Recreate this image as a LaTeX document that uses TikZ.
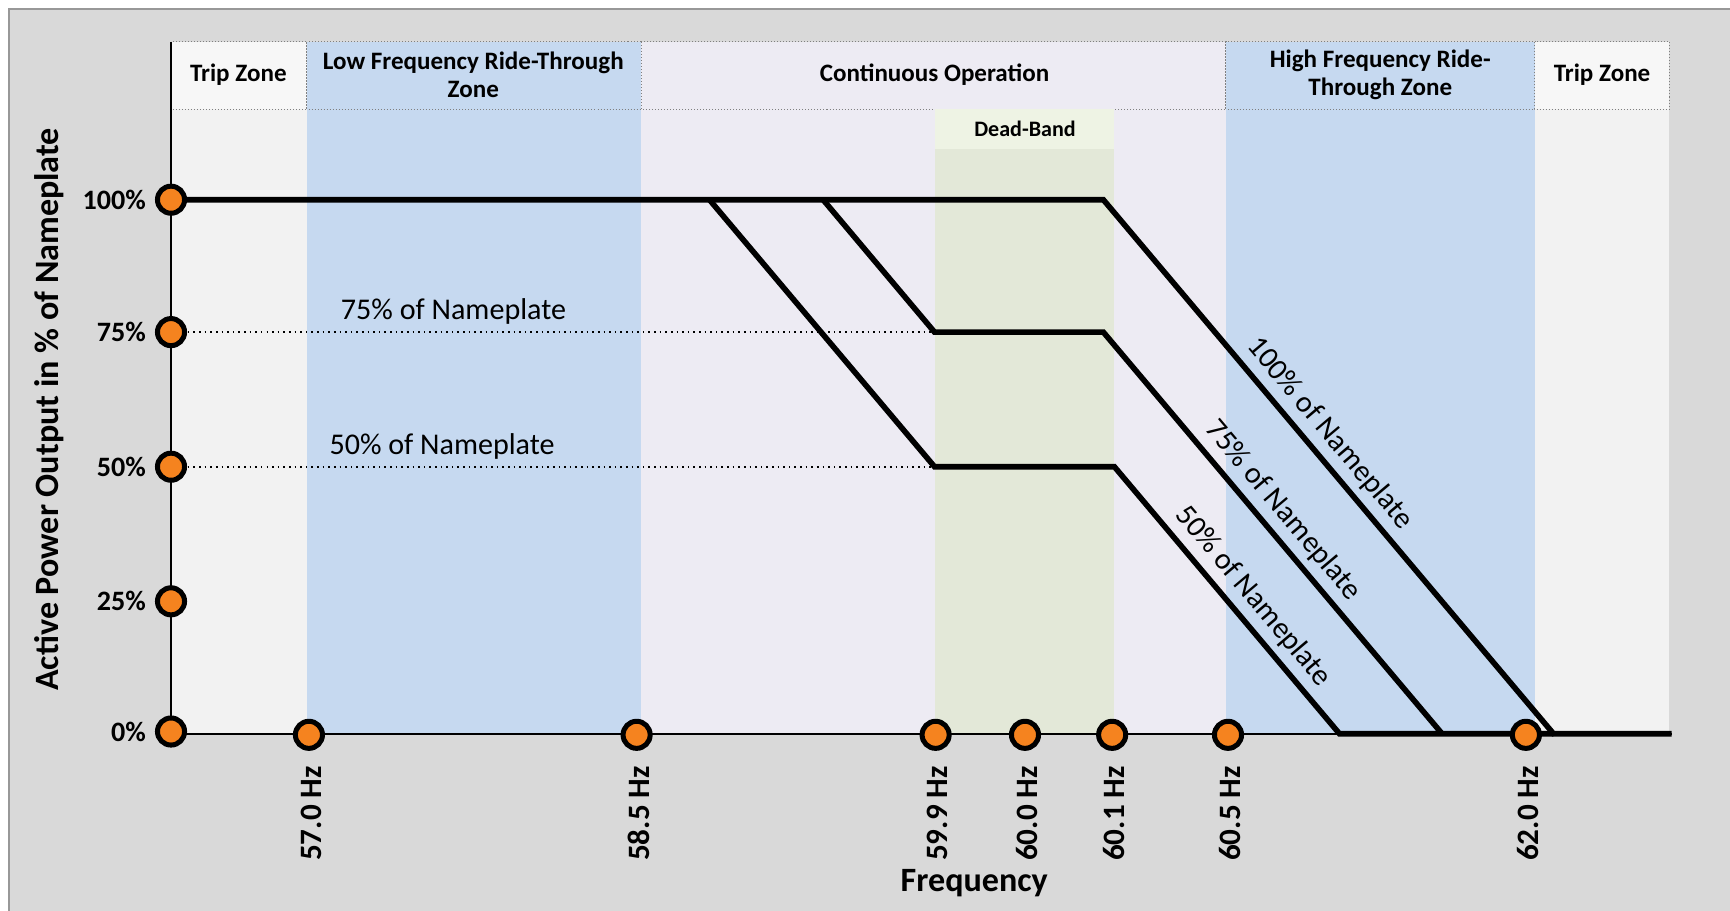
\documentclass[tikz,border=0pt]{standalone}
\usepackage{fontspec}
\setmainfont{Carlito}
\usetikzlibrary{positioning}
\pgfdeclarelayer{zones}
\pgfdeclarelayer{lines}
\pgfsetlayers{zones,lines,main}

\definecolor{framegray}{RGB}{217,217,217}
\definecolor{tripgray}{RGB}{242,242,242}
\definecolor{triphead}{RGB}{247,247,247}
\definecolor{rideblue}{RGB}{198,217,240}
\definecolor{contlav}{RGB}{237,235,243}
\definecolor{deadgreen}{RGB}{227,232,216}
\definecolor{deadlight}{RGB}{238,243,228}
\definecolor{dotorange}{RGB}{245,131,31}

\tikzset{% styles for the ride-through chart
   dotmark/.style={circle, draw=black, line width=2.5pt, fill=dotorange,
                   minimum size=13.5pt, inner sep=0pt},
   curve/.style={line width=2.8pt, line join=miter},
   axisline/.style={line width=0.9pt},
   guide/.style={dotted, line width=0.8pt},
   zonehead/.style={draw=gray, densely dotted, line width=0.5pt},
   headtext/.style={font=\bfseries\fontsize{12.5}{13.8}\selectfont, align=center},
   ticklabel/.style={font=\bfseries\fontsize{14}{16}\selectfont},
   xticklabel/.style={font=\bfseries\fontsize{15.5}{17}\selectfont},
   curvelabel/.style={font=\fontsize{15}{17}\selectfont},
   axistitle/.style={font=\bfseries\fontsize{17}{19}\selectfont}
}

\begin{document}
\begin{tikzpicture}[x=0.55pt, y=-0.55pt]
   \useasboundingbox (0,0) rectangle (1568,825);
   % frame and zone bands
   \begin{pgfonlayer}{zones}
     \fill[white] (0,0) rectangle (1568,825);
     \filldraw[fill=framegray, draw=framegray!70!black, line width=0.8pt]
          (8,8) rectangle (1600,860);
     \foreach \xa/\xb/\col/\hcol in {155/278/tripgray/triphead, 278/581/rideblue/rideblue,
                                     581/1111/contlav/contlav, 1111/1391/rideblue/rideblue,
                                     1391/1513/tripgray/triphead} {
        \fill[\col] (\xa,99) rectangle (\xb,665);
        \filldraw[zonehead, fill=\hcol] (\xa,38) rectangle (\xb,99);
     }
     \fill[deadlight] (847,99) rectangle (1010,135);
     \fill[deadgreen] (847,135) rectangle (1010,665);
   \end{pgfonlayer}

   % zone titles
   \node[headtext] (tripL) at (216,68) {Trip Zone};
   \node[headtext] (lfrt) at (429,68) {Low Frequency Ride-Through\\Zone};
   \node[headtext] (cont) at (847,68) {Continuous Operation};
   \node[headtext] (hfrt) at (1251,68) {High Frequency Ride-\\Through Zone};
   \node[headtext] (tripR) at (1452,68) {Trip Zone};
   \node[font=\bfseries\fontsize{11}{13}\selectfont] (dband) at (929,117) {Dead-Band};

   % markers on the power axis
   \foreach \p/\y in {100/181, 75/301, 50/423, 25/545, 0/663} {
      \node[dotmark] (y\p) at (155,\y) {};
      \node[ticklabel, left=1pt of y\p] (l\p) {\p\%};
   }
   % markers on the frequency axis
   \foreach \nm/\x/\hz in {f570/280/57.0, f585/577/58.5, f599/848/59.9, f600/929/60.0,
                           f601/1008/60.1, f605/1113/60.5, f620/1383/62.0} {
      \node[dotmark] (\nm) at (\x,666) {};
      \node[xticklabel, rotate=90, anchor=east] (t\nm) at (\x+2,688) {\hz~Hz};
   }

   \node[axistitle, rotate=90] (ytitle) at (45,371) {Active Power Output in \% of Nameplate};
   \node[axistitle] (xtitle) at (883,800) {Frequency};

   % knees of the curves
   \coordinate (ytop) at (155,38);
   \coordinate (yorig) at (155,665);
   \coordinate (xend) at (1515,665);
   \coordinate (a100) at (1000,181);
   \coordinate (b100) at (1408,665);
   \coordinate (a75) at (746,181);
   \coordinate (b75) at (847,301);
   \coordinate (c75) at (1000,301);
   \coordinate (d75) at (1307,665);
   \coordinate (a50) at (643,181);
   \coordinate (b50) at (847,423);
   \coordinate (c50) at (1010,423);
   \coordinate (d50) at (1214,665);

   \begin{pgfonlayer}{lines}
     \draw[axisline] (ytop) -- (yorig) -- (xend);
     \draw[guide] (y75.center) -- node[curvelabel, above, pos=0.37] (n75) {75\% of Nameplate} (b75);
     \draw[guide] (y50.center) -- node[curvelabel, above, pos=0.355] (n50) {50\% of Nameplate} (b50);
     \draw[curve] (y100.center) -- (a100)
          -- node[curvelabel, sloped, above, pos=0.465] (s100) {100\% of Nameplate} (b100) -- (xend);
     \draw[curve] (a75) -- (b75) -- (c75)
          -- node[curvelabel, sloped, above, pos=0.48] (s75) {75\% of Nameplate} (d75);
     \draw[curve] (a50) -- (b50) -- (c50)
          -- node[curvelabel, sloped, above, pos=0.54] (s50) {50\% of Nameplate} (d50) -- (b100);
   \end{pgfonlayer}
\end{tikzpicture}
\end{document}
